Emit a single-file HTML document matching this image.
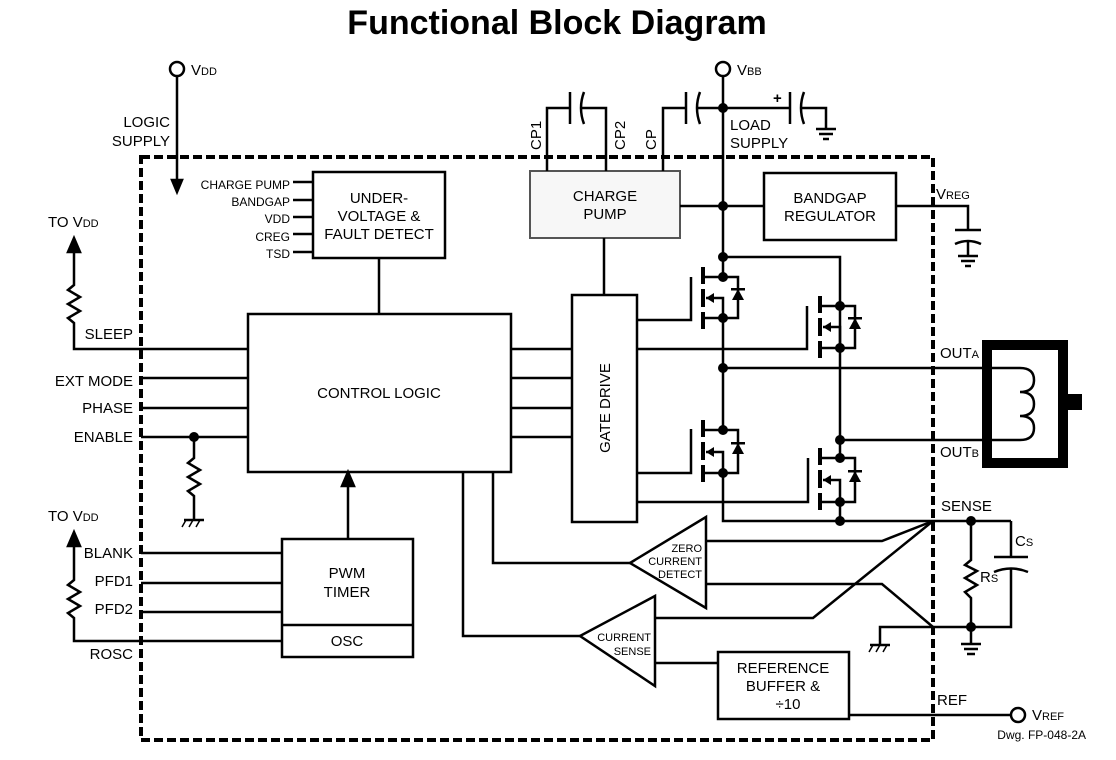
<!DOCTYPE html>
<html><head><style>
body{margin:0;background:#fff;}
svg{display:block;font-family:"Liberation Sans",Arial,sans-serif;}
text{fill:#000;}
</style></head><body>
<svg width="1116" height="760" viewBox="0 0 1116 760" xmlns="http://www.w3.org/2000/svg">
<g stroke="#000" stroke-width="2.5" fill="none">
<text x="557" y="34" font-size="34" font-weight="bold" text-anchor="middle" stroke="none">Functional Block Diagram</text>
<rect x="141" y="157" width="792" height="583" stroke-width="4" stroke-dasharray="9,4"/>
<circle cx="177" cy="69" r="7"/>
<line x1="177" y1="76" x2="177" y2="182"/>
<polygon points="172,180 182,180 177,192" fill="#000"/>
<rect x="313" y="172" width="132" height="86"/>
<line x1="293" y1="182" x2="313" y2="182"/><line x1="293" y1="200" x2="313" y2="200"/>
<line x1="293" y1="217" x2="313" y2="217"/><line x1="293" y1="234" x2="313" y2="234"/>
<line x1="293" y1="252" x2="313" y2="252"/>
<line x1="379" y1="258" x2="379" y2="314"/>
<rect x="248" y="314" width="263" height="158"/>
<polyline points="74,250 74,285 68,290 80,297 68,304 80,311 68,318 74,323 74,349 248,349"/>
<polygon points="68,252 80,252 74,238" fill="#000"/>
<line x1="141" y1="378" x2="248" y2="378"/>
<line x1="141" y1="408" x2="248" y2="408"/>
<line x1="141" y1="437" x2="248" y2="437"/>
<polyline points="194,437 194,458 188,463 200,470 188,477 200,484 188,491 194,496 194,520"/>
<line x1="184" y1="520" x2="204" y2="520"/>
<line x1="186" y1="520" x2="182" y2="527" stroke-width="1.5"/><line x1="193" y1="520" x2="189" y2="527" stroke-width="1.5"/><line x1="200" y1="520" x2="196" y2="527" stroke-width="1.5"/>
<rect x="282" y="539" width="131" height="118"/>
<line x1="282" y1="625" x2="413" y2="625"/>
<line x1="348" y1="539" x2="348" y2="484"/>
<polygon points="342,486 354,486 348,472" fill="#000"/>
<line x1="141" y1="553" x2="282" y2="553"/>
<line x1="141" y1="583" x2="282" y2="583"/>
<line x1="141" y1="612" x2="282" y2="612"/>
<polyline points="74,545 74,580 68,585 80,592 68,599 80,606 68,613 74,618 74,641 282,641"/>
<polygon points="68,546 80,546 74,532" fill="#000"/>
<rect x="572" y="295" width="65" height="227"/>
<line x1="511" y1="349" x2="572" y2="349"/><line x1="511" y1="378" x2="572" y2="378"/>
<line x1="511" y1="408" x2="572" y2="408"/><line x1="511" y1="437" x2="572" y2="437"/>
<rect x="530" y="171" width="150" height="67" stroke="#555" stroke-width="2" fill="#f7f7f7"/>
<line x1="604" y1="238" x2="604" y2="295"/>
<polyline points="547,171 547,108 570,108"/>
<line x1="570" y1="92" x2="570" y2="124"/>
<path d="M584,92 Q578,108 584,124"/>
<polyline points="580,108 606,108 606,171"/>
<polyline points="663,171 663,108 686,108"/>
<line x1="686" y1="92" x2="686" y2="124"/>
<path d="M700,92 Q694,108 700,124"/>
<line x1="696" y1="108" x2="790" y2="108"/>
<line x1="790" y1="92" x2="790" y2="124"/>
<path d="M804,92 Q798,108 804,124"/>
<polyline points="800,108 826,108 826,128"/>
<line x1="816" y1="129" x2="836" y2="129"/><line x1="819" y1="134" x2="833" y2="134"/><line x1="823" y1="139" x2="829" y2="139"/>
<circle cx="723" cy="69" r="7"/>
<line x1="723" y1="76" x2="723" y2="277"/>
<line x1="680" y1="206" x2="764" y2="206"/>
<rect x="764" y="173" width="132" height="67"/>
<polyline points="896,206 968,206 968,230"/>
<line x1="955" y1="230" x2="981" y2="230"/>
<path d="M955,244 Q968,238 981,244"/>
<line x1="968" y1="240" x2="968" y2="256"/>
<line x1="958" y1="256" x2="978" y2="256"/><line x1="961" y1="261" x2="975" y2="261"/><line x1="965" y1="266" x2="971" y2="266"/>
<polyline points="723,257 840,257 840,306"/>
<polyline points="637,320 691,320 691,277"/>
<g stroke-width="4"><line x1="703" y1="267" x2="703" y2="284"/><line x1="703" y1="289" x2="703" y2="307"/><line x1="703" y1="312" x2="703" y2="329"/></g>
<polyline points="703,277 738,277 738,318 703,318"/>
<polyline points="706,298 723,298 723,318"/>
<line x1="723" y1="318" x2="723" y2="430"/>
<polyline points="637,349 807,349 807,306"/>
<g stroke-width="4"><line x1="820" y1="296" x2="820" y2="313"/><line x1="820" y1="318" x2="820" y2="336"/><line x1="820" y1="341" x2="820" y2="358"/></g>
<polyline points="820,306 855,306 855,348 820,348"/>
<polyline points="823,327 840,327 840,348"/>
<line x1="840" y1="306" x2="840" y2="458"/>
<polyline points="637,473 691,473 691,429"/>
<g stroke-width="4"><line x1="703" y1="420" x2="703" y2="437"/><line x1="703" y1="442" x2="703" y2="460"/><line x1="703" y1="465" x2="703" y2="482"/></g>
<polyline points="703,430 738,430 738,473 703,473"/>
<polyline points="706,452 723,452 723,473"/>
<polyline points="723,473 723,521 933,521"/>
<polyline points="637,502 808,502 808,458"/>
<g stroke-width="4"><line x1="820" y1="448" x2="820" y2="465"/><line x1="820" y1="470" x2="820" y2="488"/><line x1="820" y1="493" x2="820" y2="510"/></g>
<polyline points="820,458 855,458 855,502 820,502"/>
<polyline points="823,480 840,480 840,502"/>
<line x1="840" y1="502" x2="840" y2="521"/>
<line x1="723" y1="368" x2="1020" y2="368"/>
<line x1="840" y1="440" x2="1020" y2="440"/>
<rect x="987" y="345" width="76" height="118" stroke-width="10"/>
<path d="M1020,368 Q1034,368 1034,380 Q1034,392 1020,392 Q1034,392 1034,404 Q1034,416 1020,416 Q1034,416 1034,428 Q1034,440 1020,440" fill="#fff"/>
<rect x="1067" y="394" width="15" height="16" fill="#000" stroke="none"/>
<line x1="933" y1="521" x2="1011" y2="521"/>
<polyline points="971,521 971,560 965,565 977,571 965,578 977,585 965,592 971,598 971,627"/>
<polyline points="1011,521 1011,557"/>
<line x1="994" y1="557" x2="1028" y2="557"/>
<path d="M994,572 Q1011,565 1028,572"/>
<polyline points="1011,569 1011,627 880,627 880,645"/>
<line x1="870" y1="645" x2="890" y2="645"/>
<line x1="873" y1="645" x2="869" y2="652" stroke-width="1.5"/><line x1="880" y1="645" x2="876" y2="652" stroke-width="1.5"/><line x1="887" y1="645" x2="883" y2="652" stroke-width="1.5"/>
<line x1="971" y1="627" x2="971" y2="644"/>
<line x1="961" y1="644" x2="981" y2="644"/><line x1="964" y1="649" x2="978" y2="649"/><line x1="967" y1="654" x2="975" y2="654"/>
<polygon points="630,563 706,517 706,608" fill="#fff"/>
<polyline points="706,541 882,541 933,521"/>
<polyline points="706,584 882,584 933,627"/>
<polyline points="630,563 493,563 493,472"/>
<polygon points="580,636 655,596 655,686" fill="#fff"/>
<polyline points="655,618 813,618 933,521"/>
<line x1="655" y1="663" x2="718" y2="663"/>
<polyline points="580,636 463,636 463,472"/>
<rect x="718" y="652" width="131" height="67"/>
<line x1="849" y1="715" x2="1010" y2="715"/>
<circle cx="1018" cy="715" r="7"/>
</g>
<g fill="#000">
<circle cx="194" cy="437" r="5"/>
<circle cx="723" cy="108" r="5"/><circle cx="723" cy="206" r="5"/><circle cx="723" cy="257" r="5"/>
<circle cx="723" cy="277" r="5"/><circle cx="723" cy="318" r="5"/><circle cx="723" cy="368" r="5"/>
<circle cx="723" cy="430" r="5"/><circle cx="723" cy="473" r="5"/>
<circle cx="840" cy="306" r="5"/><circle cx="840" cy="348" r="5"/><circle cx="840" cy="440" r="5"/>
<circle cx="840" cy="458" r="5"/><circle cx="840" cy="502" r="5"/><circle cx="840" cy="521" r="5"/>
<circle cx="971" cy="521" r="5"/><circle cx="971" cy="627" r="5"/>
<polygon points="706,298 714,293 714,303"/><polygon points="823,327 831,322 831,332"/>
<polygon points="706,452 714,447 714,457"/><polygon points="823,480 831,475 831,485"/>
<polygon points="732,300 744,300 738,289"/><rect x="731" y="288" width="14" height="2.5"/>
<polygon points="849,329 861,329 855,318"/><rect x="848" y="317" width="14" height="2.5"/>
<polygon points="732,454 744,454 738,443"/><rect x="731" y="442" width="14" height="2.5"/>
<polygon points="849,482 861,482 855,471"/><rect x="848" y="470" width="14" height="2.5"/>
</g>
<g font-size="15">
<text x="191" y="75">V<tspan font-size="11">DD</tspan></text>
<text x="170" y="127" text-anchor="end">LOGIC</text>
<text x="170" y="146" text-anchor="end">SUPPLY</text>
<text x="737" y="75">V<tspan font-size="11">BB</tspan></text>
<text x="730" y="130">LOAD</text>
<text x="730" y="148">SUPPLY</text>
<text x="773" y="103" font-weight="bold">+</text>
<text x="379" y="203" text-anchor="middle">UNDER-</text>
<text x="379" y="221" text-anchor="middle">VOLTAGE &amp;</text>
<text x="379" y="239" text-anchor="middle">FAULT DETECT</text>
<text x="379" y="398" text-anchor="middle">CONTROL LOGIC</text>
<text x="605" y="201" text-anchor="middle">CHARGE</text>
<text x="605" y="219" text-anchor="middle">PUMP</text>
<text x="830" y="203" text-anchor="middle">BANDGAP</text>
<text x="830" y="221" text-anchor="middle">REGULATOR</text>
<text x="936" y="199">V<tspan font-size="11">REG</tspan></text>
<text transform="translate(610,408) rotate(-90)" text-anchor="middle">GATE DRIVE</text>
<text transform="translate(541,150) rotate(-90)">CP1</text>
<text transform="translate(625,150) rotate(-90)">CP2</text>
<text transform="translate(656,150) rotate(-90)">CP</text>
<text x="48" y="227">TO V<tspan font-size="11">DD</tspan></text>
<text x="133" y="339" text-anchor="end">SLEEP</text>
<text x="133" y="386" text-anchor="end">EXT MODE</text>
<text x="133" y="413" text-anchor="end">PHASE</text>
<text x="133" y="442" text-anchor="end">ENABLE</text>
<text x="48" y="521">TO V<tspan font-size="11">DD</tspan></text>
<text x="133" y="558" text-anchor="end">BLANK</text>
<text x="133" y="586" text-anchor="end">PFD1</text>
<text x="133" y="614" text-anchor="end">PFD2</text>
<text x="133" y="659" text-anchor="end">ROSC</text>
<text x="347" y="578" text-anchor="middle">PWM</text>
<text x="347" y="597" text-anchor="middle">TIMER</text>
<text x="347" y="646" text-anchor="middle">OSC</text>
<text x="940" y="358">OUT<tspan font-size="11">A</tspan></text>
<text x="940" y="457">OUT<tspan font-size="11">B</tspan></text>
<text x="941" y="511">SENSE</text>
<text x="1015" y="546">C<tspan font-size="11">S</tspan></text>
<text x="980" y="582">R<tspan font-size="11">S</tspan></text>
<text x="783" y="673" text-anchor="middle">REFERENCE</text>
<text x="783" y="691" text-anchor="middle">BUFFER &amp;</text>
<text x="788" y="709" text-anchor="middle">÷10</text>
<text x="937" y="705">REF</text>
<text x="1032" y="720">V<tspan font-size="11">REF</tspan></text>
</g>
<g font-size="12">
<text x="290" y="189" text-anchor="end">CHARGE PUMP</text>
<text x="290" y="206" text-anchor="end">BANDGAP</text>
<text x="290" y="223" text-anchor="end">VDD</text>
<text x="290" y="241" text-anchor="end">CREG</text>
<text x="290" y="258" text-anchor="end">TSD</text>
<text x="1086" y="739" text-anchor="end">Dwg. FP-048-2A</text>
</g>
<g font-size="11" text-anchor="end">
<text x="702" y="552">ZERO</text>
<text x="702" y="565">CURRENT</text>
<text x="702" y="578">DETECT</text>
<text x="651" y="641">CURRENT</text>
<text x="651" y="655">SENSE</text>
</g>
</svg>
</body></html>
